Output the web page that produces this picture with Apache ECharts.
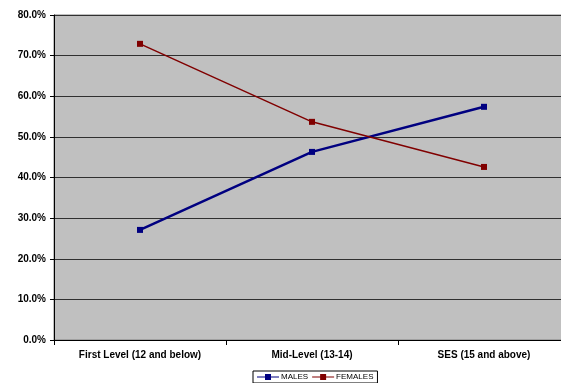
<!DOCTYPE html>
<html>
<head>
<meta charset="utf-8">
<script src="https://cdn.jsdelivr.net/npm/echarts@6/dist/echarts.min.js"></script>
<style>
  html, body { margin: 0; padding: 0; background: #fff; }
  #chart { width: 561px; height: 383px; }
</style>
</head>
<body>
<div id="chart"></div>
<script>
// Share of each education level by gender
const categories = ['First Level (12 and below)', 'Mid-Level (13-14)', 'SES (15 and above)'];
const males = [27.1, 46.3, 57.4];
const females = [72.9, 53.7, 42.6];

const chart = echarts.init(document.getElementById('chart'), null, { renderer: 'canvas' });

const labelFont = { fontFamily: 'Liberation Sans, Arial, sans-serif', fontWeight: 'bold', fontSize: 10, color: '#000' };
const legendIcon = 'path://M0,2.5 L8,2.5 L8,0 L14,0 L14,2.5 L22,2.5 L22,3.5 L14,3.5 L14,6 L8,6 L8,3.5 L0,3.5 Z';

chart.setOption({
  animation: false,
  backgroundColor: '#fff',
  grid: {
    left: 54, top: 15, width: 516, height: 325,
    outerBoundsMode: 'none',
    containLabel: false,
    show: true, backgroundColor: '#c0c0c0', borderColor: '#808080', borderWidth: 1
  },
  legend: {
    top: 371, left: 253,
    itemWidth: 22, itemHeight: 6, itemGap: 4,
    padding: [2, 4, 2, 4],
    borderColor: '#000', borderWidth: 1, backgroundColor: '#fff',
    textStyle: { fontFamily: 'Liberation Sans, Arial, sans-serif', fontSize: 8, color: '#000', padding: [0, 0, 0, -3] },
    data: [
      { name: 'MALES', icon: legendIcon },
      { name: 'FEMALES', icon: legendIcon }
    ]
  },
  xAxis: {
    type: 'category',
    data: categories,
    boundaryGap: true,
    axisLine: { lineStyle: { color: '#000', width: 1 } },
    axisTick: { show: true, length: 5, inside: false, lineStyle: { color: '#000' } },
    axisLabel: Object.assign({ margin: 10, interval: 0 }, labelFont),
    splitLine: { show: false }
  },
  yAxis: {
    type: 'value',
    min: 0, max: 80, interval: 10,
    axisLine: { show: true, lineStyle: { color: '#000', width: 1 } },
    axisTick: { show: true, length: 4, lineStyle: { color: '#000' } },
    axisLabel: Object.assign({ margin: 8, formatter: v => v.toFixed(1) + '%' }, labelFont),
    splitLine: { show: true, lineStyle: { color: '#303030', width: 1 } }
  },
  series: [
    {
      name: 'MALES', type: 'line', data: males,
      symbol: 'rect', symbolSize: 6,
      color: '#000080',
      lineStyle: { color: '#000080', width: 2.5 },
      itemStyle: { color: '#000080' }
    },
    {
      name: 'FEMALES', type: 'line', data: females,
      symbol: 'rect', symbolSize: 6,
      color: '#800000',
      lineStyle: { color: '#800000', width: 1.5 },
      itemStyle: { color: '#800000' }
    }
  ]
});
</script>
</body>
</html>
